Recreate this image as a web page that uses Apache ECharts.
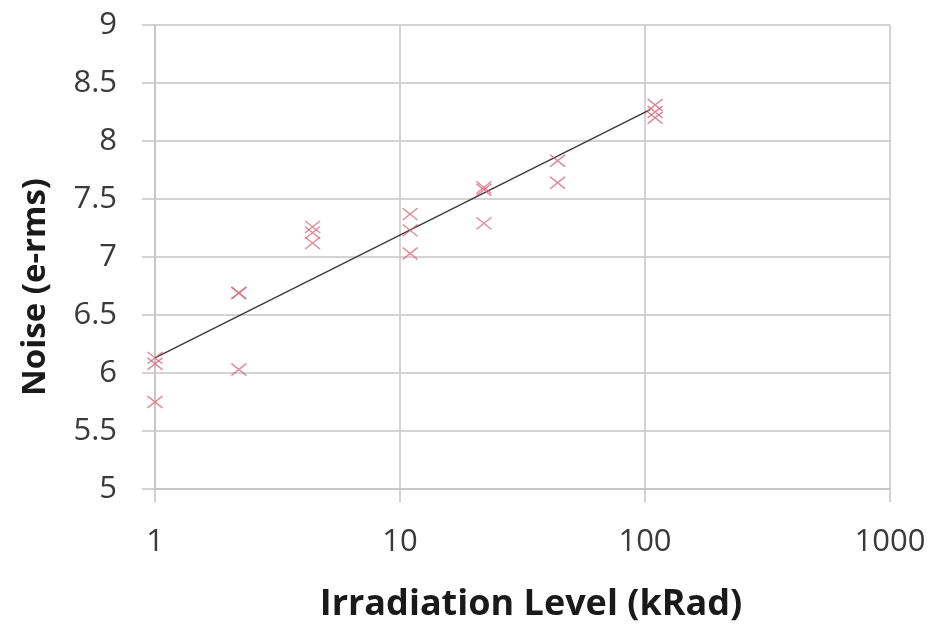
<!DOCTYPE html>
<html>
<head>
<meta charset="utf-8">
<script src="https://cdn.jsdelivr.net/npm/echarts@6/dist/echarts.min.js"></script>
<style>
  html, body { margin: 0; padding: 0; background: #fff; }
  #chart { width: 935px; height: 624px; }
</style>
</head>
<body>
<div id="chart"></div>
<script>
// dose levels (kRad) and measured noise, three samples per level
var doseLevels = [1, 2.2, 4.4, 11, 22, 44, 110];
var noiseA = [6.13, 6.69, 7.26, 7.37, 7.60, 7.83, 8.31];
var noiseB = [6.08, 6.69, 7.21, 7.23, 7.58, 7.64, 8.25];
var noiseC = [5.75, 6.03, 7.12, 7.03, 7.29, null, 8.20];

// logarithmic trend line, end points
var trendX = [1, 105];
var trendY = [6.13, 8.27];

var yTicks = ['5', '5.5', '6', '6.5', '7', '7.5', '8', '8.5', '9'];

var points = [];
[noiseA, noiseB, noiseC].forEach(function (arr) {
  arr.forEach(function (v, i) {
    if (v !== null) points.push([doseLevels[i], v]);
  });
});
var trend = trendX.map(function (x, i) { return [x, trendY[i]]; });

var gridColor = '#c4c4c4';
var labelFont = { fontFamily: 'Open Sans', fontSize: 31, color: '#3a3a3a' };

var myChart = echarts.init(document.getElementById('chart'));
myChart.setOption({
  animation: false,
  grid: { left: 155, right: 45, top: 25, bottom: 135 },
  xAxis: {
    type: 'log',
    logBase: 10,
    min: 1,
    max: 1000,
    axisLine: { show: true, onZero: false, lineStyle: { color: gridColor, width: 1.5 } },
    axisTick: { show: true, length: 13, lineStyle: { color: gridColor, width: 1.5 } },
    minorTick: { show: false },
    splitLine: { show: true, lineStyle: { color: gridColor, width: 1.5 } },
    axisLabel: Object.assign({
      margin: 38,
      formatter: function (v) { return String(Math.round(v)); }
    }, labelFont)
  },
  yAxis: {
    type: 'value',
    min: 5,
    max: 9,
    interval: 0.5,
    axisLine: { show: true, onZero: false, lineStyle: { color: gridColor, width: 1.5 } },
    axisTick: { show: true, length: 13, lineStyle: { color: gridColor, width: 1.5 } },
    splitLine: { show: true, lineStyle: { color: gridColor, width: 1.5 } },
    axisLabel: Object.assign({
      margin: 38,
      formatter: function (v) { return yTicks[Math.round((v - 5) * 2)]; }
    }, labelFont)
  },
  graphic: [
    {
      type: 'text',
      x: 531,
      y: 605,
      style: {
        text: 'Irradiation Level (kRad)',
        font: 'bold 36px "Open Sans"',
        fill: '#1a1a1a',
        align: 'center',
        verticalAlign: 'middle'
      }
    },
    {
      type: 'text',
      x: 36,
      y: 287,
      rotation: Math.PI / 2,
      style: {
        text: 'Noise (e-rms)',
        font: 'bold 33px "Open Sans"',
        fill: '#1a1a1a',
        align: 'center',
        verticalAlign: 'middle'
      }
    }
  ],
  series: [
    {
      type: 'line',
      data: trend,
      symbol: 'none',
      lineStyle: { color: '#3c3c3c', width: 1.5 },
      z: 3
    },
    {
      type: 'scatter',
      data: points,
      symbol: 'path://M0,0L10,10M10,0L0,10',
      symbolSize: [15, 12],
      itemStyle: { color: 'rgba(0,0,0,0)', borderColor: '#d9687c', borderWidth: 1.4 },
      z: 4
    }
  ]
});
</script>
</body>
</html>
